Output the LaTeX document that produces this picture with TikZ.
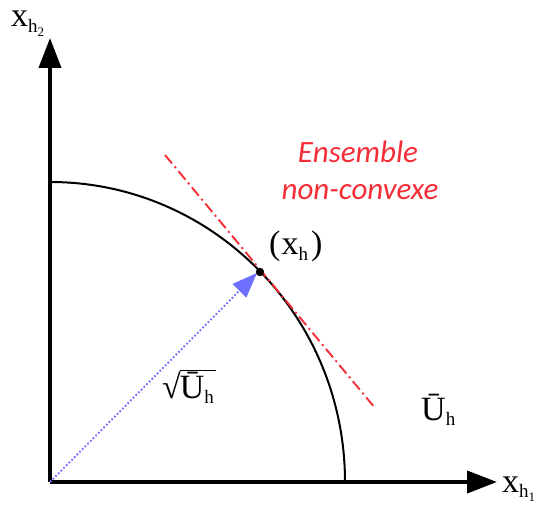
\documentclass[tikz,border=0pt]{standalone}
\usepackage{fontspec}
\setmainfont{Liberation Serif}
\newfontfamily\calfont{Carlito}
\usetikzlibrary{arrows.meta}
\definecolor{redlbl}{RGB}{245,45,55}
\definecolor{bluearr}{RGB}{110,110,255}
\newcommand{\mysub}[1]{\raisebox{-0.16em}{\fontsize{19}{19}\selectfont #1}}
\newcommand{\mysubsub}[1]{\raisebox{-0.2em}{\fontsize{13}{13}\selectfont #1}}
\begin{document}
\begin{tikzpicture}[x=1pt,y=-1pt,
  axis/.style={line width=3.8pt,-{Triangle[length=30pt,width=22pt]}},
  lbl/.style={inner sep=0pt,anchor=base west,font=\fontsize{34}{36}\selectfont},
  ens/.style={inner sep=0pt,anchor=base,text=redlbl,font=\calfont\itshape\fontsize{31}{37}\selectfont}]
\useasboundingbox (0,0) rectangle (536,505);
\coordinate (O) at (50,482);
\coordinate (ytip) at (50,38);
\coordinate (xtip) at (497,482);
\coordinate (P) at (260,272);
\coordinate (tA) at (165,155);
\coordinate (tB) at (375,408);
\draw[axis] (O) -- (ytip);
\draw[axis] (O) -- (xtip);
\draw[line width=2pt] (50,182) arc[start angle=90,end angle=0,x radius=295,y radius=-300];
\draw[redlbl,line width=1.9pt,dash pattern=on 11pt off 4pt on 2pt off 4pt] (tA) -- (tB);
\draw[bluearr,line width=1.8pt,dotted,-{Triangle[length=25pt,width=19pt]}] (O) -- (257,273);
\fill (P) circle (4.2);
\node[lbl] (yl) at (11,27) {x\mysub{h\mysubsub{2}}};
\node[lbl] (xl) at (502,492) {x\mysub{h\mysubsub{1}}};
\node[lbl] (pl) at (269,255) {(\kern1pt x\mysub{h}\kern3pt)};
\node[lbl] (sq) at (162,398) {√\kern-1pt$\overline{\mbox{\fontsize{34}{36}\selectfont\=U\mysub{h}\kern2pt}}$};
\node[lbl] (ul) at (421,420) {\=U\mysub{h}};
\node[ens] (ens1) at (358,163) {Ensemble};
\node[ens] (ens2) at (360,200) {non-convexe};
\end{tikzpicture}
\end{document}
